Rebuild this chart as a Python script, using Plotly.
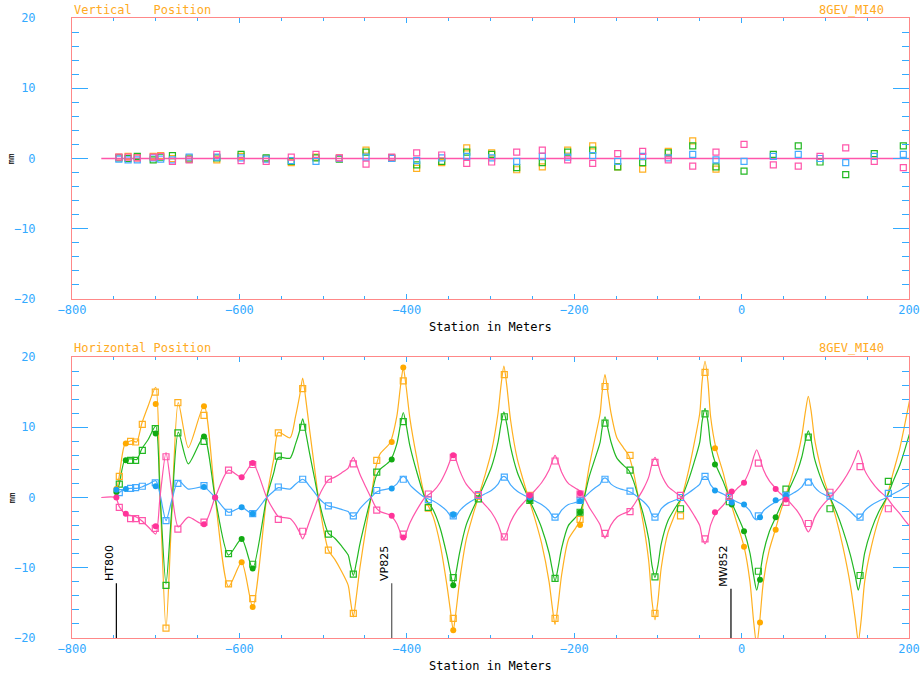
import plotly.graph_objects as go

# ---------------- data ----------------
series_names = ["orange", "green", "blue", "pink"]
line_colors = {"orange": "#ffb020", "green": "#22b822", "blue": "#44aaff", "pink": "#ff55aa"}
mark_colors = {"orange": "#ffaa00", "green": "#11aa11", "blue": "#1a9ff0", "pink": "#ff3399"}

# Horizontal trajectory (bottom panel) - line vertices
h_station = [
    -765, -748, -743.5, -736.7, -728.7, -722.7, -716.7, -708.8, -700, -694.9,
    -687.7, -681, -673, -661, -642.3, -629, -613, -597.3, -584.1, -567.4,
    -559, -553.5, -539.5, -533, -528, -524.4, -521, -516, -510, -505.7,
    -499, -493.7, -486, -478, -470, -467.5, -463.9, -460.5, -456, -449,
    -442.8, -437, -432, -420,
    -412, -407.7, -404.2, -400.7, -396.2, -388.2, -378.3, -368.3, -360.3, -352.3,
    -348, -344.5, -341, -337, -329, -321, -314.6, -307, -299, -291,
    -287.5, -284, -280.5, -276, -268, -261,
    -254.8, -247, -239, -230, -226.4, -222.9, -219.4, -215, -207, -198,
    -193, -188, -182, -175, -169, -166.7, -163.2, -159.7, -156, -149,
    -141.3, -135, -129, -123.3,
    -117, -111, -107, -103.5, -100, -96, -88, -80, -71.6, -64,
    -57, -50, -47.2, -43.7, -40.2, -37, -30.6, -22, -14.7, -6,
    2.9, 10, 14.5, 18, 21.5, 26,
    33, 40, 46, 52, 60, 67, 72, 76.2, 79.7, 83.2,
    87, 93, 99, 105.6, 113, 121, 130, 135.9, 139.4, 142.9,
    147, 155, 164, 173.4, 181, 189, 196, 201,
]
h_orange = [
    0, 0, 3.1, 7.6, 8.1, 7.9, 10.5, 13.1, 15.7, 1.0,
    -18.7, -3.0, 13.5, 7.1, 13.1, 0, -12.7, -9.2, -15.6, 0,
    5.5, 9.3, 8.5, 11.5, 14.5, 17.0, 14.3, 9.5, 4.0, 0,
    -4.8, -7.5, -8.8, -10.5, -12.5, -14.5, -17.0, -14.3, -10.0, -4.5,
    0, 4.3, 6.2, 7.8,
    11.5, 15.7, 18.5, 15.7, 11.2, 5.7, 0, -2.8, -6.6, -12.3,
    -16.0, -18.9, -16.0, -12.0, -6.0, -2.5, 0, 3.0, 6.5, 12.0,
    15.9, 18.7, 15.9, 11.0, 5.5, 2.5,
    0, -3.0, -6.5, -12.0, -15.4, -18.1, -15.4, -11.0, -6.0, -4.3,
    -3.3, 0, 4.5, 8.5, 12.0, 14.9, 17.5, 14.9, 12.0, 8.5,
    7.1, 6.0, 3.5, 0,
    -4.0, -9.0, -14.8, -17.4, -14.8, -10.0, -5.0, -2.5, 0, 3.5,
    7.5, 12.0, 16.5, 19.4, 16.5, 11.5, 7.0, 3.5, 0, -3.5,
    -7.0, -12.0, -17.8, -21.0, -17.8, -12.0,
    -7.5, -4.7, -2.2, 0, 3.0, 6.0, 8.8, 12.2, 14.4, 12.2,
    8.5, 5.0, 2.3, 0, -3.0, -7.0, -12.5, -17.4, -20.5, -17.4,
    -12.0, -7.0, -3.0, 0, 3.5, 7.0, 11.0, 14.0,
]
h_green = [
    0, 0, 1.9, 5.4, 5.5, 5.4, 6.9, 8.3, 10.2, 0.6,
    -12.3, -2.0, 9.3, 4.8, 8.7, 0, -8.2, -5.9, -10.1, 0,
    3.5, 5.7, 5.6, 7.6, 9.5, 11.2, 9.4, 6.2, 2.6, 0,
    -3.3, -5.1, -5.8, -6.9, -8.2, -9.5, -11.1, -9.4, -6.6, -3.0,
    0, 2.9, 4.0, 5.2,
    7.6, 10.3, 12.1, 10.3, 7.3, 3.7, 0, -1.8, -4.3, -8.1,
    -10.6, -12.5, -10.6, -7.9, -3.9, -1.6, 0, 2.0, 4.3, 7.9,
    10.4, 12.2, 10.4, 7.2, 3.6, 1.6,
    0, -2.0, -4.3, -7.9, -10.1, -11.9, -10.1, -7.2, -4.0, -2.8,
    -2.1, 0, 3.0, 5.6, 7.9, 9.8, 11.5, 9.8, 7.9, 5.6,
    4.6, 3.9, 2.3, 0,
    -2.6, -5.9, -9.7, -11.4, -9.7, -6.6, -3.3, -1.6, 0, 2.3,
    4.9, 7.9, 10.8, 12.7, 10.8, 7.5, 4.6, 2.3, 0, -2.3,
    -4.8, -7.9, -11.2, -13.2, -11.2, -7.9,
    -4.9, -3.0, -1.4, 0, 2.0, 3.9, 5.8, 8.1, 9.5, 8.1,
    5.6, 3.3, 1.5, 0, -2.0, -4.6, -8.2, -11.2, -13.2, -11.2,
    -7.9, -4.6, -2.0, 0, 2.3, 4.6, 7.2, 9.2,
]
h_blue = [
    0, 0, 0.7, 1.2, 1.3, 1.3, 1.5, 1.9, 2.4, 0.5,
    -3.3, -0.5, 2.4, 1.2, 1.5, 0, -2.1, -1.4, -2.3, 0,
    0.9, 1.4, 1.2, 1.9, 2.35, 2.6, 2.35, 1.6, 0.7, 0,
    -0.8, -1.2, -1.4, -1.7, -2.0, -2.45, -2.7, -2.4, -1.6, -0.7,
    0, 0.7, 1.0, 1.3,
    1.9, 2.7, 3.0, 2.7, 1.8, 0.9, 0, -0.5, -1.1, -1.9,
    -2.6, -2.9, -2.6, -1.9, -1.0, -0.4, 0, 0.5, 1.0, 1.9,
    2.7, 3.0, 2.7, 1.8, 0.9, 0.4,
    0, -0.5, -1.0, -1.9, -2.6, -2.9, -2.6, -1.8, -1.0, -0.7,
    -0.5, 0, 0.7, 1.4, 1.9, 2.5, 2.8, 2.5, 1.9, 1.4,
    1.1, 0.9, 0.5, 0,
    -0.6, -1.4, -2.5, -2.8, -2.5, -1.6, -0.8, -0.4, 0, 0.6,
    1.2, 1.9, 2.7, 3.0, 2.7, 1.8, 1.0, 0.5, 0, -0.6,
    -1.1, -1.9, -2.9, -3.2, -2.9, -1.9,
    -1.2, -0.7, -0.3, 0, 0.5, 1.0, 1.5, 2.3, 2.6, 2.3,
    1.5, 0.8, 0.4, 0, -0.5, -1.1, -2.0, -2.7, -3.0, -2.7,
    -1.9, -1.1, -0.5, 0, 0.5, 1.0, 1.5, 1.9,
]
h_pink = [
    0, 0, -1.3, -2.3, -2.6, -2.8, -3.3, -4.2, -5.2, 0.0,
    6.4, 1.0, -4.2, -2.8, -3.8, 0, 3.9, 2.9, 4.9, 0,
    -1.8, -2.7, -3.0, -3.9, -5.0, -5.9, -5.0, -3.3, -1.4, 0,
    1.6, 2.5, 2.9, 3.5, 4.2, 4.9, 5.7, 4.8, 3.3, 1.5,
    0, -1.4, -2.0, -2.5,
    -3.7, -5.0, -5.9, -5.0, -3.6, -1.8, 0, 0.9, 2.1, 4.0,
    5.3, 6.2, 5.3, 3.9, 1.9, 0.8, 0, -1.0, -2.1, -3.8,
    -5.0, -5.9, -5.0, -3.5, -1.8, -0.8,
    0, 1.0, 2.1, 3.9, 5.1, 6.0, 5.1, 3.6, 2.0, 1.3,
    0.9, 0, -1.4, -2.7, -3.9, -4.9, -5.8, -4.9, -3.9, -2.8,
    -2.3, -2.0, -1.1, 0,
    1.3, 2.9, 4.8, 5.7, 4.8, 3.3, 1.6, 0.8, 0, -1.2,
    -2.5, -4.0, -5.6, -6.6, -5.6, -3.9, -2.2, -1.1, 0, 1.2,
    2.2, 4.0, 5.8, 6.8, 5.8, 4.0,
    2.4, 1.4, 0.6, 0, -1.0, -2.0, -3.0, -4.2, -4.9, -4.2,
    -2.9, -1.7, -0.8, 0, 1.0, 2.3, 4.1, 5.7, 6.7, 5.7,
    3.9, 2.3, 1.0, 0, -1.2, -2.3, -3.4, -4.1,
]

# Horizontal BPM readings (open markers)
hbpm_station = [-743.5, -730, -724, -716, -700.5, -687.7, -673.5, -642.3, -613, -584.1,
                -553.5, -524.4, -493.7, -463.9, -435.9, -404.2, -374.3, -344.5, -314.5, -283.5,
                -253, -222.9, -193, -163.2, -133.3, -103.5, -73, -43.7, -14.7, 20,
                53, 79.7, 105.6, 141.5, 175.3]
hbpm_orange = [3.0, 8.0, 7.9, 10.4, 15.0, -18.6, 13.5, 11.7, -12.3, -14.4,
               9.2, 15.5, -7.5, -16.5, 5.3, 16.6, -1.5, -17.2, 0.2, 17.5,
               0.3, -17.2, -3.1, 15.8, 6.0, -16.5, -2.6, 17.8, None, None,
               None, None, None, None, None]
hbpm_green = [1.9, 5.3, 5.3, 6.7, 9.8, -12.5, 9.2, 8.0, -8.0, -9.5,
              5.9, 10.0, -5.2, -10.9, 3.6, 10.8, -1.4, -11.4, -0.2, 11.5,
              -0.4, -11.5, -2.1, 10.6, 3.9, -11.3, -1.6, 11.9, -0.6, -10.5,
              1.2, 8.6, -1.6, -11.1, 2.3]
hbpm_blue = [0.7, 1.3, 1.4, 1.6, 2.1, -3.3, 2.0, 1.7, -2.1, -2.3,
             1.5, 2.6, -1.2, -2.6, 1.0, 2.6, -0.3, -2.6, 0.3, 2.9,
             0.1, -2.8, -0.4, 2.6, 0.9, -2.8, 0.0, 3.0, 0.0, -2.6,
             0.3, 2.2, 0.2, -2.8, 0.6]
hbpm_pink = [-1.4, -3.0, -3.0, -3.3, -4.4, 5.8, -4.5, -3.5, 3.9, 4.7,
             -3.1, -4.8, 2.6, 4.8, -1.8, -5.2, 0.5, 5.7, 0.4, -5.6,
             0.2, 5.2, 0.5, -5.1, -2.0, 5.0, 0.3, -5.9, 0.2, 4.9,
             -0.7, -3.7, 0.75, 4.4, -1.6]

# Filled points (bottom panel)
hfill_station = [-747, -735.7, -700, -642.3, -629, -597.3, -584.1, -418, -404.2, -344.5,
                 -253, -193, -31.8, -11.8, 2.9, 22, 40.7, 53]
hfill_orange = [1.2, 7.7, 13.3, 13.0, None, -9.2, -15.6, 7.9, 18.5, -18.9,
                None, -3.9, 7.0, None, -7.0, -17.8, -4.6, None]
hfill_green = [0.8, 5.3, 9.1, 8.7, None, -5.9, -10.1, 5.4, None, -12.5,
               -0.4, -2.1, 4.7, -1.0, -4.8, -11.7, -2.8, None]
hfill_blue = [1.1, 1.2, 1.6, 1.5, 0.0, -1.4, -2.3, 1.3, None, -2.4,
              0.0, -0.5, 1.0, -0.7, -1.0, -2.8, -0.4, 0.3]
hfill_pink = [0.0, -2.3, -4.1, -3.8, 0.0, 2.9, 4.9, -2.6, -5.7, 6.0,
              0.3, 0.6, -2.1, 0.85, 2.1, None, 1.2, -0.3]

# Vertical trajectory (top panel) - flat line
v_station = [-765, 200]
v_line = [0, 0]

# Vertical BPM readings (top panel)
vbpm_station = [-744, -733, -722, -703, -694, -680, -660, -627, -598, -568,
                -538, -508.5, -480.6, -448.7, -418, -388.2, -358.3, -328.4, -298.6, -268.7,
                -238.1, -207.8, -177.9, -148.0, -118.2, -87.6, -58.4, -30.6, 2.9, 37.9,
                67.7, 93.7, 124.4, 158.5, 193.2]
vbpm_orange = [0.2, 0.3, 0.1, 0.3, 0.4, 0.0, 0.1, -0.2, 0.3, 0.0,
               -0.6, 0.2, 0.1, 1.2, 0.0, -1.4, -0.6, 1.5, 0.8, -1.6,
               -1.2, 1.2, 1.8, -1.2, -1.5, 1.0, 2.5, -1.5, None, None,
               None, None, None, None, None]
vbpm_green = [0.1, 0.0, 0.3, -0.2, 0.2, 0.4, -0.1, 0.1, 0.6, 0.1,
              -0.4, 0.1, -0.1, 0.9, 0.1, -0.9, -0.4, 0.9, 0.6, -1.3,
              -0.6, 0.9, 1.2, -1.2, -0.6, 0.8, 1.8, -1.2, -1.8, 0.6,
              1.8, -0.5, -2.3, 0.7, 1.8]
vbpm_blue = [-0.1, -0.2, -0.2, 0.1, -0.1, -0.2, 0.2, 0.2, 0.1, -0.1,
             -0.3, -0.4, 0.0, 0.2, 0.0, -0.3, 0.1, 0.3, 0.1, -0.4,
             0.3, 0.2, 0.4, -0.4, 0.3, 0.1, 0.6, -0.2, -0.4, 0.3,
             0.6, 0.0, -0.6, 0.3, 0.6]
vbpm_pink = [0.2, 0.2, 0.1, 0.2, 0.3, -0.4, -0.2, 0.6, -0.3, -0.4,
             0.2, 0.6, 0.1, -0.8, 0.2, 0.8, 0.5, -0.7, -0.5, 0.9,
             1.2, -0.2, -0.7, 0.7, 1.0, -0.2, -1.1, 0.9, 2.0, -0.9,
             -1.1, 0.3, 1.5, -0.4, -1.3]

# Element labels (bottom panel)
elem_names = ["HT800", "VP825", "MW852"]
elem_station = [-747, -418, -12.7]
elem_top = [-12.2, -12.2, -13.0]
elem_colors = ["#000000", "#555555", "#000000"]

x_tickvals = [-800, -600, -400, -200, 0, 200]
y_tickvals = [-20, -10, 0, 10, 20]

h_lines = {"orange": h_orange, "green": h_green, "blue": h_blue, "pink": h_pink}
h_bpm = {"orange": hbpm_orange, "green": hbpm_green, "blue": hbpm_blue, "pink": hbpm_pink}
h_fill = {"orange": hfill_orange, "green": hfill_green, "blue": hfill_blue, "pink": hfill_pink}
v_bpm = {"orange": vbpm_orange, "green": vbpm_green, "blue": vbpm_blue, "pink": vbpm_pink}

for arr in h_lines.values():
    assert len(arr) == len(h_station)

# ---------------- figure ----------------
fig = go.Figure()

# flat vertical trajectory: all series coincide, pink is the one on top
fig.add_trace(go.Scatter(x=v_station, y=v_line, mode="lines", xaxis="x", yaxis="y",
                         line=dict(color=line_colors["pink"], width=1.3), hoverinfo="skip"))
for s in series_names:
    fig.add_trace(go.Scatter(x=vbpm_station, y=v_bpm[s], mode="markers", xaxis="x", yaxis="y",
                             marker=dict(symbol="square-open", size=6, color=line_colors[s],
                                         line=dict(width=1.2, color=line_colors[s]))))

for s in series_names:
    start = 0 if s == "pink" else 1
    fig.add_trace(go.Scatter(x=h_station[start:], y=h_lines[s][start:], mode="lines",
                             xaxis="x2", yaxis="y2",
                             line=dict(color=line_colors[s], width=1.2, shape="spline", smoothing=0.7),
                             hoverinfo="skip"))
for s in series_names:
    fig.add_trace(go.Scatter(x=hbpm_station, y=h_bpm[s], mode="markers", xaxis="x2", yaxis="y2",
                             marker=dict(symbol="square-open", size=6, color=line_colors[s],
                                         line=dict(width=1.2, color=line_colors[s]))))
for s in series_names:
    fig.add_trace(go.Scatter(x=hfill_station, y=h_fill[s], mode="markers", xaxis="x2", yaxis="y2",
                             marker=dict(symbol="circle", size=6, color=mark_colors[s])))

axis_line = "#ff8888"
tick_col = "#33aaff"
mono = "DejaVu Sans Mono"

def xaxis_cfg(anchor):
    return dict(
        anchor=anchor, domain=[0, 1], range=[-800, 200], automargin=False,
        tickmode="array", tickvals=x_tickvals,
        showline=True, linecolor=axis_line, linewidth=1, mirror="allticks",
        ticks="inside", ticklen=5, tickcolor=tick_col, tickwidth=1,
        minor=dict(dtick=50, tick0=-800, ticklen=3, tickcolor=tick_col, ticks="inside"),
        showgrid=False, zeroline=False,
        tickfont=dict(family=mono, size=12, color=tick_col),
        ticklabelstandoff=0,
    )

def yaxis_cfg(anchor, domain):
    return dict(
        anchor=anchor, domain=domain, range=[-20, 20], automargin=False,
        tickmode="array", tickvals=y_tickvals,
        showline=True, linecolor=axis_line, linewidth=1, mirror="allticks",
        ticks="inside", ticklen=16, tickcolor=tick_col, tickwidth=1,
        minor=dict(dtick=2, tick0=-20, ticklen=7, tickcolor=tick_col, ticks="inside"),
        showgrid=False, zeroline=False,
        tickfont=dict(family=mono, size=12, color=tick_col),
        ticklabelstandoff=33,
    )

top_dom = [0.5468, 1.0]
bot_dom = [0.0, 0.4532]

title_col = "#ffaa22"
ann = []
for yref, title, ty in [("y domain", "Vertical\u00a0\u00a0\u00a0Position", 1.03),
                        ("y2 domain", "Horizontal Position", 1.032)]:
    xref = "x domain" if yref == "y domain" else "x2 domain"
    ann.append(dict(text=title, xref=xref, yref=yref, x=0, y=ty, xanchor="left", yanchor="middle",
                    showarrow=False, font=dict(family=mono, size=12, color=title_col)))
    ann.append(dict(text="8GEV_MI40", xref=xref, yref=yref, x=0.9725, y=ty, xanchor="right",
                    yanchor="middle", showarrow=False, font=dict(family=mono, size=12, color=title_col)))
    ann.append(dict(text="Station in Meters", xref=xref, yref=yref, x=0.5, y=-0.098, xanchor="center",
                    yanchor="middle", showarrow=False, font=dict(family=mono, size=12, color="#000000")))
    ann.append(dict(text="mm", xref=xref, yref=yref, x=-0.0717, y=0.5, xanchor="center",
                    yanchor="middle", textangle=-90, showarrow=False,
                    font=dict(family=mono, size=9, color="#000000")))

shapes = []
for name, st, top, col in zip(elem_names, elem_station, elem_top, elem_colors):
    shapes.append(dict(type="line", xref="x2", yref="y2", x0=st, x1=st, y0=-20, y1=top,
                       line=dict(color=col, width=1.2)))
    ann.append(dict(text=name, xref="x2", yref="y2", x=st, y=top, xanchor="right", yanchor="bottom",
                    textangle=-90, showarrow=False, xshift=1,
                    font=dict(family="DejaVu Sans", size=11, color="#000000")))

fig.update_layout(
    width=924, height=676,
    margin=dict(l=72, r=15, t=18, b=38, autoexpand=False),
    paper_bgcolor="white", plot_bgcolor="white",
    showlegend=False,
    xaxis=xaxis_cfg("y"), yaxis=yaxis_cfg("x", top_dom),
    xaxis2=xaxis_cfg("y2"), yaxis2=yaxis_cfg("x2", bot_dom),
    annotations=ann, shapes=shapes,
)

fig.write_html("out.html", config={"displayModeBar": False},
               post_script="document.body.style.margin='0px';document.body.style.overflow='hidden';")
